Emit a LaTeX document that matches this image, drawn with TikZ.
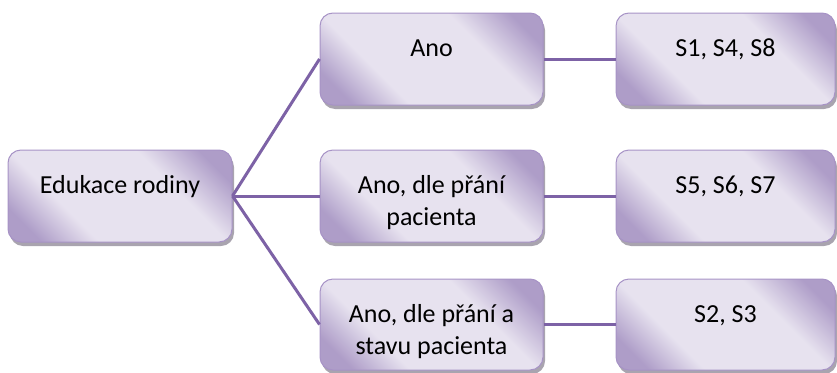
\documentclass[tikz,border=0pt]{standalone}
\usepackage{fontspec}
\setmainfont{Carlito}
\usetikzlibrary{shadows}

\definecolor{boxdark}{HTML}{AE9DC8}
\definecolor{boxlight}{HTML}{E7E2EF}
\definecolor{boxedge}{HTML}{A793C6}
\definecolor{linkcol}{HTML}{7D62A6}
\definecolor{shadowcol}{HTML}{8C8594}

% diagonal fill: darker corners, wide light band through the middle
\pgfdeclareverticalshading{cardshade}{100bp}{%
  color(0bp)=(boxdark); color(22bp)=(boxdark); color(35bp)=(boxlight);
  color(64bp)=(boxlight); color(78bp)=(boxdark); color(100bp)=(boxdark)}

% strut that fixes the height of the first text line
\newcommand\lnstrut{\rule{0pt}{21pt}}

\tikzset{
  card/.style={rectangle, rounded corners=13pt, draw=boxedge, line width=1pt,
    shading=cardshade, shading angle=-45, inner sep=0pt,
    drop shadow={shadow xshift=2pt, shadow yshift=-4pt, fill=shadowcol, opacity=0.75}},
  cardtext/.style={anchor=north, inner sep=0pt, align=center,
    font=\fontsize{26}{32}\selectfont, text=black, yshift=-23pt},
  link/.style={draw=linkcol, line width=3pt},
}

\begin{document}
\begin{tikzpicture}[x=1pt, y=-1pt]
  \useasboundingbox (0,0) rectangle (837,372);

  % root
  \node[card, minimum width=224pt, minimum height=92pt] (r) at (120,196) {};
  % middle column
  \node[card, minimum width=223pt, minimum height=92pt] (a1) at (431.5,59) {};
  \node[card, minimum width=223pt, minimum height=92pt] (a2) at (431.5,196) {};
  \node[card, minimum width=223pt, minimum height=91pt] (a3) at (431.5,324.5) {};
  % right column
  \node[card, minimum width=219pt, minimum height=92pt] (s1) at (725.5,59) {};
  \node[card, minimum width=219pt, minimum height=92pt] (s2) at (725.5,196) {};
  \node[card, minimum width=219pt, minimum height=91pt] (s3) at (725.5,324.5) {};

  % labels, aligned to the top of each box
  \node[cardtext] (tr)  at (r.north)  {\lnstrut Edukace rodiny};
  \node[cardtext] (ta1) at (a1.north) {\lnstrut Ano};
  \node[cardtext] (ta2) at (a2.north) {\lnstrut Ano, dle přání\\pacienta};
  \node[cardtext] (ta3) at (a3.north) {\lnstrut Ano, dle přání a\\stavu pacienta};
  \node[cardtext] (ts1) at (s1.north) {\lnstrut S1, S4, S8};
  \node[cardtext] (ts2) at (s2.north) {\lnstrut S5, S6, S7};
  \node[cardtext] (ts3) at (s3.north) {\lnstrut S2, S3};

  % connectors
  \draw[link] (r.east) -- (a1.west);
  \draw[link] (r.east) -- (a2.west);
  \draw[link] (r.east) -- (a3.west);
  \draw[link] (a1.east) -- (s1.west);
  \draw[link] (a2.east) -- (s2.west);
  \draw[link] (a3.east) -- (s3.west);
\end{tikzpicture}
\end{document}
